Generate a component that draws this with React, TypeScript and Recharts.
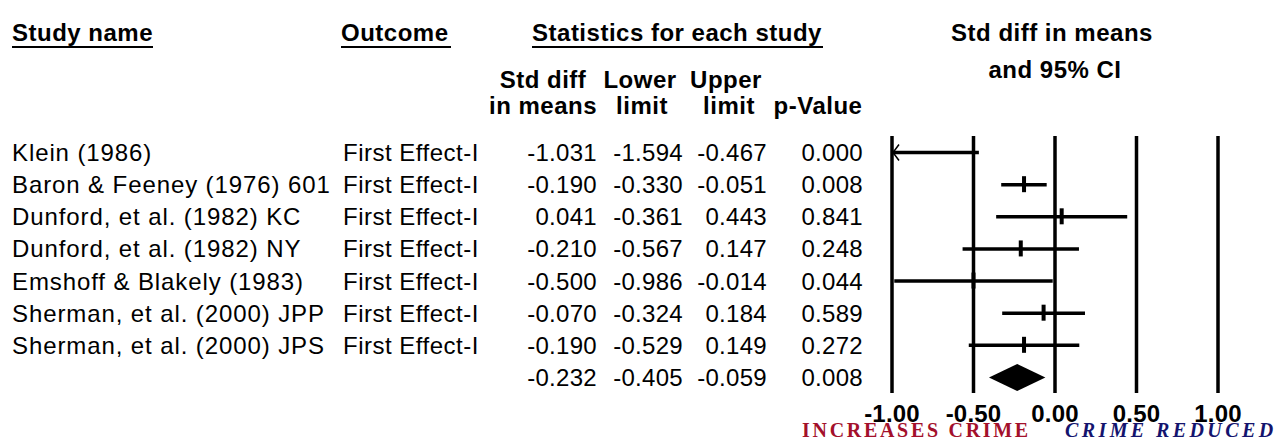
import React from 'react';
import { ComposedChart, Bar, Scatter, XAxis, YAxis, ReferenceLine } from 'recharts';

const studyNames = [
  'Klein (1986)',
  'Baron & Feeney (1976) 601',
  'Dunford, et al. (1982) KC',
  'Dunford, et al. (1982) NY',
  'Emshoff & Blakely (1983)',
  'Sherman, et al. (2000) JPP',
  'Sherman, et al. (2000) JPS',
  '',
];
const outcomes = [
  'First Effect-I',
  'First Effect-I',
  'First Effect-I',
  'First Effect-I',
  'First Effect-I',
  'First Effect-I',
  'First Effect-I',
  '',
];
const stdDiff = [-1.031, -0.19, 0.041, -0.21, -0.5, -0.07, -0.19, -0.232];
const lowerLimit = [-1.594, -0.33, -0.361, -0.567, -0.986, -0.324, -0.529, -0.405];
const upperLimit = [-0.467, -0.051, 0.443, 0.147, -0.014, 0.184, 0.149, -0.059];
const pValues = ['0.000', '0.008', '0.841', '0.248', '0.044', '0.589', '0.272', '0.008'];
const isSummary = [false, false, false, false, false, false, false, true];
const xTicks = [-1, -0.5, 0, 0.5, 1];
const axisMin = -1;
const axisMax = 1;

const rows = studyNames.map((name, i) => ({
  id: `row${i}`,
  name,
  outcome: outcomes[i],
  es: stdDiff[i],
  lo: lowerLimit[i],
  hi: upperLimit[i],
  p: pValues[i],
  summary: isSummary[i],
}));

const SANS = '"Liberation Sans", Arial, Helvetica, sans-serif';
const SERIF = '"Liberation Serif", "Times New Roman", serif';
const fmt = (v: number) => v.toFixed(3);

function TableTick(props: any) {
  const { y, payload } = props;
  const r = rows.find((d) => d.id === payload.value) || rows[props.index];
  const by = y + 9;
  return (
    <g fontFamily={SANS} fontSize={24} fill="#000">
      <text x={12} y={by} letterSpacing={0.9}>{r.name}</text>
      <text x={343} y={by} letterSpacing={0.5}>{r.outcome}</text>
      <text x={597} y={by} textAnchor="end" letterSpacing={0.3}>{fmt(r.es)}</text>
      <text x={683} y={by} textAnchor="end" letterSpacing={0.3}>{fmt(r.lo)}</text>
      <text x={767} y={by} textAnchor="end" letterSpacing={0.3}>{fmt(r.hi)}</text>
      <text x={863} y={by} textAnchor="end" letterSpacing={0.3}>{r.p}</text>
    </g>
  );
}

function AxisTick(props: any) {
  const { x, y, payload } = props;
  return (
    <text x={x} y={y + 29} textAnchor="middle" fontFamily={SANS} fontWeight="bold" fontSize={24} fill="#000" letterSpacing={0.2}>
      {Number(payload.value).toFixed(2)}
    </text>
  );
}

function IntervalShape(props: any) {
  const { x, y, width, height } = props;
  const r = props.payload && props.payload.id ? props.payload : rows[props.index];
  const cy = y + height / 2;
  const pxPerUnit = width / (r.hi - r.lo);
  if (r.summary) {
    const cx = x + (r.es - r.lo) * pxPerUnit;
    return (
      <polygon
        points={`${x},${cy} ${cx},${cy - 13.5} ${x + width},${cy} ${cx},${cy + 13.5}`}
        fill="#000"
      />
    );
  }
  const parts = [
    <line key="ci" x1={x} y1={cy} x2={x + width} y2={cy} stroke="#000" strokeWidth={3.5} />,
  ];
  if (r.lo < axisMin) {
    const xm = x + (axisMin - r.lo) * pxPerUnit;
    parts.push(
      <polyline
        key="arrow"
        points={`${xm + 7},${cy - 8} ${xm + 1},${cy} ${xm + 7},${cy + 8}`}
        fill="none"
        stroke="#000"
        strokeWidth={1.5}
      />
    );
  }
  return <g>{parts}</g>;
}

function EffectMark(props: any) {
  const { cx, cy, payload } = props;
  if (!payload || payload.summary || cx == null || cy == null) return <g />;
  return <rect x={cx - 2} y={cy - 8} width={4} height={16} fill="#000" />;
}

export default function App() {
  return (
    <div style={{ position: 'absolute', left: 0, top: 0, width: 1274, height: 438, background: '#fff' }}>
      <ComposedChart
        width={1274}
        height={438}
        data={rows}
        layout="vertical"
        margin={{ top: 136, right: 56, bottom: 0, left: 0 }}
      >
        <XAxis
          type="number"
          domain={[axisMin, axisMax]}
          allowDataOverflow
          ticks={xTicks}
          interval={0}
          axisLine={false}
          tickLine={false}
          tickSize={0}
          tickMargin={0}
          height={45}
          tick={<AxisTick />}
        />
        <YAxis
          type="category"
          dataKey="id"
          width={892}
          interval={0}
          axisLine={false}
          tickLine={false}
          tickSize={0}
          tickMargin={0}
          tick={<TableTick />}
        />
        {xTicks.map((t) => (
          <ReferenceLine key={t} x={t} stroke="#000" strokeWidth={3.5} />
        ))}
        <Bar
          dataKey={(d: any) => [d.lo, d.hi]}
          barSize={3}
          shape={<IntervalShape />}
          isAnimationActive={false}
        />
        <Scatter
          dataKey={(d: any) => (d.summary ? null : d.es)}
          shape={<EffectMark />}
          isAnimationActive={false}
        />
      </ComposedChart>
      <svg
        width={1274}
        height={438}
        style={{ position: 'absolute', left: 0, top: 0, pointerEvents: 'none' }}
      >
        <g fontFamily={SANS} fontWeight="bold" fontSize={24} fill="#000" letterSpacing={0.5}>
          <text x={12} y={41}>Study name</text>
          <line x1={12} x2={153} y1={47} y2={47} stroke="#000" strokeWidth={2} />
          <text x={341} y={41}>Outcome</text>
          <line x1={341} x2={451} y1={47} y2={47} stroke="#000" strokeWidth={2} />
          <text x={677} y={41} textAnchor="middle">Statistics for each study</text>
          <line x1={532} x2={823} y1={47} y2={47} stroke="#000" strokeWidth={2} />
          <text x={1052} y={41} textAnchor="middle">Std diff in means</text>
          <text x={1055} y={78} textAnchor="middle">and 95% CI</text>
          <text x={543} y={88} textAnchor="middle">Std diff</text>
          <text x={640} y={88} textAnchor="middle">Lower</text>
          <text x={726} y={88} textAnchor="middle">Upper</text>
          <text x={543} y={114} textAnchor="middle">in means</text>
          <text x={642} y={114} textAnchor="middle">limit</text>
          <text x={729} y={114} textAnchor="middle">limit</text>
          <text x={818} y={114} textAnchor="middle">p-Value</text>
        </g>
        <text x={802} y={437} fontFamily={SERIF} fontWeight="bold" fontSize={20} letterSpacing={2.7} fill="#a3102b">
          INCREASES CRIME
        </text>
        <text x={1065} y={437} fontFamily={SERIF} fontWeight="bold" fontStyle="italic" fontSize={20} letterSpacing={3.4} fill="#14146e">
          CRIME REDUCED
        </text>
      </svg>
    </div>
  );
}
